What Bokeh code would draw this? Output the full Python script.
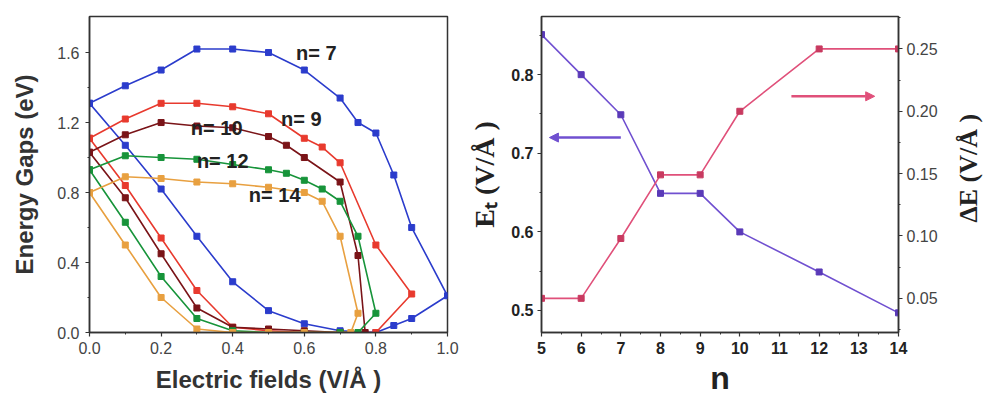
import math
from bokeh.plotting import figure
from bokeh.layouts import row
from bokeh.models import Range1d, LinearAxis, Arrow, NormalHead, FixedTicker, NumeralTickFormatter
from bokeh.embed import file_html
from bokeh.resources import INLINE
from bokeh.core.properties import value

# ---------------- left panel data: energy gap loops vs electric field ----------------
n7_x = [0, 0.1, 0.2, 0.3, 0.4, 0.5, 0.6, 0.7, 0.75, 0.8, 0.85, 0.9, 1.0, 0.9, 0.85, 0.8, 0.7, 0.6, 0.5, 0.4, 0.3, 0.2, 0.1, 0]
n7_y = [1.31, 1.41, 1.50, 1.62, 1.62, 1.60, 1.50, 1.34, 1.20, 1.14, 0.90, 0.60, 0.21, 0.08, 0.04, 0.0, 0.01, 0.05, 0.125, 0.29, 0.55, 0.82, 1.07, 1.31]

n9_x = [0, 0.1, 0.2, 0.3, 0.4, 0.5, 0.6, 0.65, 0.7, 0.8, 0.9, 0.8, 0.7, 0.6, 0.5, 0.4, 0.3, 0.2, 0.1, 0]
n9_y = [1.11, 1.22, 1.31, 1.31, 1.29, 1.25, 1.11, 1.06, 0.97, 0.50, 0.22, 0.0, 0.0, 0.0, 0.01, 0.03, 0.24, 0.54, 0.84, 1.11]

n10_x = [0, 0.1, 0.2, 0.3, 0.4, 0.5, 0.55, 0.6, 0.7, 0.75, 0.77, 0.7, 0.6, 0.5, 0.4, 0.3, 0.2, 0.1, 0]
n10_y = [1.03, 1.13, 1.20, 1.18, 1.17, 1.12, 1.07, 1.00, 0.86, 0.44, 0.0, 0.0, 0.01, 0.02, 0.03, 0.14, 0.45, 0.77, 1.03]

n12_x = [0, 0.1, 0.2, 0.3, 0.4, 0.5, 0.55, 0.6, 0.65, 0.7, 0.75, 0.8, 0.75, 0.7, 0.6, 0.5, 0.4, 0.3, 0.2, 0.1, 0]
n12_y = [0.93, 1.01, 1.00, 0.99, 0.96, 0.93, 0.91, 0.87, 0.82, 0.75, 0.55, 0.11, 0.0, 0.0, 0.0, 0.0, 0.01, 0.08, 0.32, 0.63, 0.93]

n14_x = [0, 0.1, 0.2, 0.3, 0.4, 0.5, 0.6, 0.65, 0.7, 0.75, 0.73, 0.6, 0.5, 0.4, 0.3, 0.2, 0.1, 0]
n14_y = [0.80, 0.89, 0.88, 0.86, 0.85, 0.83, 0.80, 0.75, 0.55, 0.11, 0.0, 0.0, 0.0, 0.0, 0.02, 0.20, 0.50, 0.80]

curve_labels = ["n= 7", "n= 9", "n= 10", "n= 12", "n= 14"]
curve_label_x = [0.577, 0.535, 0.283, 0.30, 0.445]
curve_label_y = [1.60, 1.223, 1.166, 0.983, 0.783]

left_xticks = [0.0, 0.2, 0.4, 0.6, 0.8, 1.0]
left_yticks = [0.0, 0.4, 0.8, 1.2, 1.6]

# ---------------- right panel data ----------------
n_vals = [5, 6, 7, 8, 9, 10, 12, 14]
Et_vals = [0.851, 0.800, 0.749, 0.649, 0.649, 0.600, 0.549, 0.497]
dE_vals = [0.050, 0.050, 0.098, 0.149, 0.149, 0.200, 0.250, 0.250]

right_xticks = [5, 6, 7, 8, 9, 10, 11, 12, 13, 14]
right_yticks = [0.5, 0.6, 0.7, 0.8]
right_y2ticks = [0.05, 0.10, 0.15, 0.20, 0.25]
right_axis_title = ["ΔE (V/Å )"]

FONT = "Liberation Sans"
SERIF = "Liberation Serif"
AX = "#333333"


def style_axis(ax, size="16px", color="#444444", bold=False):
    ax.axis_line_color = AX
    ax.axis_line_width = 1.5
    ax.major_tick_line_color = AX
    ax.minor_tick_line_color = AX
    ax.major_tick_line_width = 1.2
    ax.major_tick_in = 0
    ax.major_tick_out = 4
    ax.minor_tick_in = 0
    ax.minor_tick_out = 2
    ax.major_label_text_font = FONT
    ax.major_label_text_font_size = size
    ax.major_label_text_color = color
    if bold:
        ax.major_label_text_font_style = "bold"


# ================= left figure =================
p1 = figure(width=462, height=400, output_backend="svg", toolbar_location=None,
            x_range=Range1d(0, 1.0), y_range=Range1d(0, 1.806),
            min_border_left=89, min_border_right=15, min_border_top=16, min_border_bottom=68)
p1.grid.visible = False
p1.outline_line_color = AX
p1.outline_line_width = 1.5

colors = ["#2b3ccc", "#e83a2e", "#7a1418", "#17943a", "#e8a040"]
for xs, ys, c in zip([n7_x, n9_x, n10_x, n12_x, n14_x], [n7_y, n9_y, n10_y, n12_y, n14_y], colors):
    p1.line(xs, ys, line_color=c, line_width=1.6)
    p1.scatter(xs, ys, marker="square", size=6, fill_color=c, line_color=c)

p1.text(x=curve_label_x, y=curve_label_y, text=curve_labels, text_font=value(FONT),
        text_font_style="bold", text_font_size="20px", text_color="#222222",
        text_baseline="middle", text_align="left")

for ax in (p1.xaxis[0], p1.yaxis[0]):
    style_axis(ax, size="16px", color="#444444")
    ax.major_label_standoff = 6
    ax.axis_label_text_font = FONT
    ax.axis_label_text_font_style = "bold"
    ax.axis_label_text_font_size = "24px"
    ax.axis_label_text_color = "#333333"
    ax.formatter = NumeralTickFormatter(format="0.0")

p1.xaxis.ticker = FixedTicker(ticks=left_xticks, minor_ticks=[0.1, 0.3, 0.5, 0.7, 0.9])
p1.yaxis.ticker = FixedTicker(ticks=left_yticks, minor_ticks=[0.2, 0.6, 1.0, 1.4])
p1.xaxis.major_label_standoff = 5
p1.xaxis.axis_label = "Electric fields (V/Å )"
p1.yaxis.axis_label = "Energy Gaps (eV)"
p1.xaxis.axis_label_standoff = 9
p1.yaxis.axis_label_standoff = 16

# ================= right figure =================
p2 = figure(width=486, height=400, output_backend="svg", toolbar_location=None,
            x_range=Range1d(5, 14), y_range=Range1d(0.472, 0.874),
            min_border_left=79, min_border_right=50, min_border_top=16, min_border_bottom=68)
p2.grid.visible = False
p2.outline_line_color = AX
p2.outline_line_width = 1.5
p2.extra_y_ranges = {"dE": Range1d(0.0226, 0.276)}

et_col = "#7050d0"
de_col = "#e0507a"
p2.line(n_vals, Et_vals, line_color=et_col, line_width=1.6)
p2.scatter(n_vals, Et_vals, marker="square", size=6, fill_color="#5a3ab8", line_color="#5a3ab8")
p2.line(n_vals, dE_vals, line_color=de_col, line_width=1.6, y_range_name="dE")
p2.scatter(n_vals, dE_vals, marker="square", size=6, fill_color="#c83a60", line_color="#c83a60", y_range_name="dE")

# arrows pointing to the axis each curve belongs to
p2.add_layout(Arrow(x_start=7.0, y_start=0.72, x_end=5.2, y_end=0.72, line_color=et_col, line_width=2.5,
                    end=NormalHead(size=9, fill_color=et_col, line_color=et_col)))
p2.add_layout(Arrow(x_start=11.3, y_start=0.212, x_end=13.4, y_end=0.212, line_color=de_col, line_width=2.5,
                    y_range_name="dE", end=NormalHead(size=9, fill_color=de_col, line_color=de_col)))

right_axis = LinearAxis(y_range_name="dE")
p2.add_layout(right_axis, "right")

style_axis(p2.xaxis[0], size="16px", color="#222222", bold=True)
style_axis(p2.yaxis[0], size="16px", color="#222222", bold=True)
style_axis(right_axis, size="16px", color="#444444")
p2.yaxis[0].major_label_standoff = 4
right_axis.major_label_standoff = 4

p2.xaxis.ticker = FixedTicker(ticks=right_xticks, minor_ticks=[5.5 + i for i in range(9)])
p2.yaxis[0].ticker = FixedTicker(ticks=right_yticks, minor_ticks=[0.55, 0.65, 0.75, 0.85])
p2.yaxis[0].formatter = NumeralTickFormatter(format="0.0")
right_axis.ticker = FixedTicker(ticks=right_y2ticks, minor_ticks=[0.025, 0.075, 0.125, 0.175, 0.225, 0.275])
right_axis.formatter = NumeralTickFormatter(format="0.00")

p2.xaxis.axis_label = "n"
p2.xaxis.axis_label_text_font = FONT
p2.xaxis.axis_label_text_font_style = "bold"
p2.xaxis.axis_label_text_font_size = "32px"
p2.xaxis.axis_label_text_color = "#222222"
p2.xaxis.axis_label_standoff = 3

p2.yaxis[0].axis_label = "Eₜ (V/Å )"
p2.yaxis[0].axis_label_text_font = SERIF
p2.yaxis[0].axis_label_text_font_style = "bold"
p2.yaxis[0].axis_label_text_font_size = "28px"
p2.yaxis[0].axis_label_text_color = "#222222"
p2.yaxis[0].axis_label_standoff = 8

# ================= narrow strip holding the right-axis title (reads bottom to top) =================
p3 = figure(width=36, height=400, output_backend="svg", toolbar_location=None,
            x_range=Range1d(0, 1), y_range=Range1d(0, 1),
            x_axis_type=None, y_axis_type=None,
            min_border_left=0, min_border_right=0, min_border_top=16, min_border_bottom=68)
p3.grid.visible = False
p3.outline_line_color = None
p3.text(x=[0.55], y=[0.52], text=right_axis_title, angle=math.pi / 2,
        text_font=value(SERIF), text_font_style="bold", text_font_size="26px",
        text_color="#222222", text_align="center", text_baseline="middle")

layout = row(p1, p2, p3)
open("out.html", "w").write(file_html(layout, INLINE))
